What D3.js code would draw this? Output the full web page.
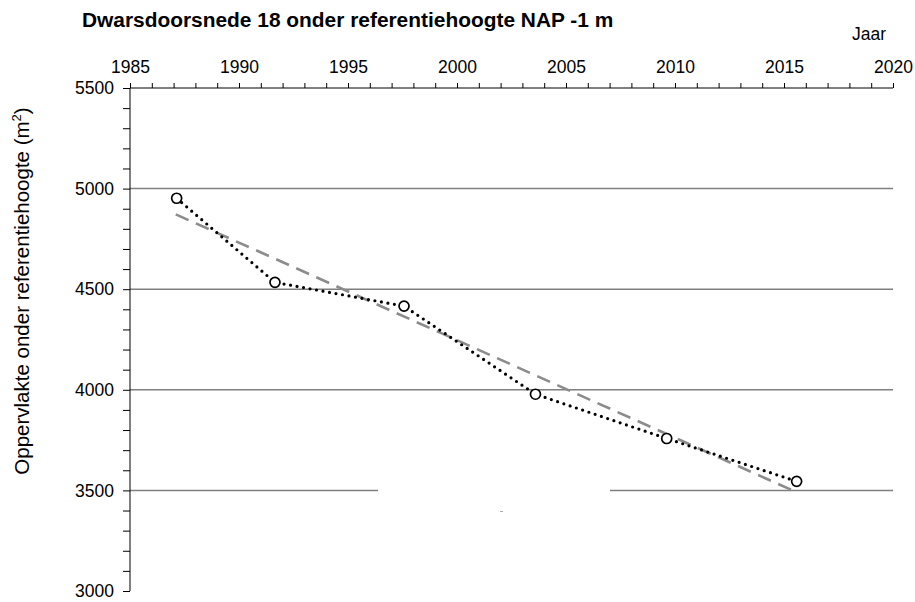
<!DOCTYPE html>
<html>
<head>
<meta charset="utf-8">
<script src="https://cdn.jsdelivr.net/npm/d3@7"></script>
<style>
  html, body { margin: 0; padding: 0; background: #fff; }
  svg { display: block; font-family: "Liberation Sans", Arial, sans-serif; }
</style>
</head>
<body>
<svg id="chart" width="915" height="602"></svg>
<script>
// ---- data ----
const years = [1987.14, 1991.65, 1997.57, 2003.6, 2009.62, 2015.58];
const area = [4952, 4534, 4416, 3978, 3758, 3545];
const trendYears = [1987.1, 2015.6];
const trendValues = [4872, 3490];
const xTickValues = [1985, 1990, 1995, 2000, 2005, 2010, 2015, 2020];
const yTickValues = [3000, 3500, 4000, 4500, 5000, 5500];
const gridValues = [3500, 4000, 4500, 5000];
const titleText = "Dwarsdoorsnede 18 onder referentiehoogte NAP -1 m";
const xAxisTitle = "Jaar";
const yAxisTitle = "Oppervlakte onder referentiehoogte (m";

// ---- layout ----
const mLeft = 130, mRight = 893, mTop = 88, mBottom = 591;
const svg = d3.select("#chart");

const x = d3.scaleLinear().domain([1985, 2020]).range([mLeft, mRight]);
const y = d3.scaleLinear().domain([3000, 5500]).range([mBottom, mTop]);

// gridlines
svg.append("g").selectAll("line").data(gridValues).join("line")
  .attr("x1", mLeft).attr("x2", mRight)
  .attr("y1", d => y(d)).attr("y2", d => y(d))
  .attr("stroke", "#7f7f7f").attr("stroke-width", 1.5);

// hidden legend box (masks part of the 3500 gridline)
svg.append("rect")
  .attr("x", 378).attr("y", 470).attr("width", 232).attr("height", 60)
  .attr("fill", "#fff");
svg.append("line")
  .attr("x1", 500).attr("x2", 503).attr("y1", 511.5).attr("y2", 511.5)
  .attr("stroke", "#aaa").attr("stroke-width", 1);

// top x axis
const xMinor = d3.range(1985, 2021, 1);
const xAxis = d3.axisTop(x).tickValues(xMinor)
  .tickFormat(d => xTickValues.includes(d) ? d3.format("d")(d) : "")
  .tickSize(5).tickPadding(10);
const gx = svg.append("g").attr("transform", `translate(0,${mTop})`).call(xAxis);
gx.select(".domain").attr("d", `M${mLeft},0H${mRight}`).attr("stroke", "#000");
gx.selectAll(".tick line").attr("stroke", "#000");
gx.selectAll(".tick text").attr("font-size", 17.5).attr("fill", "#000")
  .attr("font-family", "Liberation Sans, Arial, sans-serif");

// left y axis
const yMinor = d3.range(3000, 5501, 100);
const yAxis = d3.axisLeft(y).tickValues(yMinor)
  .tickFormat(d => yTickValues.includes(d) ? d3.format("d")(d) : "")
  .tickSize(7).tickPadding(9);
const gy = svg.append("g").attr("transform", `translate(${mLeft},0)`).call(yAxis);
gy.select(".domain").attr("d", `M0,${mTop}V${mBottom}`).attr("stroke", "#000");
gy.selectAll(".tick line").attr("stroke", "#000");
gy.selectAll(".tick text").attr("font-size", 17.5).attr("fill", "#000")
  .attr("font-family", "Liberation Sans, Arial, sans-serif");

// trend line (dashed gray)
const trend = trendYears.map((d, i) => [d, trendValues[i]]);
svg.append("path").datum(trend)
  .attr("d", d3.line().x(d => x(d[0])).y(d => y(d[1])))
  .attr("fill", "none").attr("stroke", "#8c8c8c").attr("stroke-width", 2.6)
  .attr("stroke-dasharray", "14,8");

// data line (dotted black)
const pts = years.map((d, i) => [d, area[i]]);
svg.append("path").datum(pts)
  .attr("d", d3.line().x(d => x(d[0])).y(d => y(d[1])))
  .attr("fill", "none").attr("stroke", "#000").attr("stroke-width", 3.2)
  .attr("stroke-linecap", "round").attr("stroke-dasharray", "0,6.6");

// markers
svg.append("g").selectAll("circle").data(pts).join("circle")
  .attr("cx", d => x(d[0])).attr("cy", d => y(d[1])).attr("r", 5)
  .attr("fill", "#fff").attr("stroke", "#000").attr("stroke-width", 1.7);

// title
svg.append("text").attr("x", 82).attr("y", 27)
  .attr("font-size", 20.9).attr("font-weight", "bold").attr("fill", "#000")
  .text(titleText);

// x axis title
svg.append("text").attr("x", 886).attr("y", 40).attr("text-anchor", "end")
  .attr("font-size", 17.5).attr("fill", "#000").text(xAxisTitle);

// y axis title
const yt = svg.append("text")
  .attr("transform", "translate(29,291) rotate(-90)")
  .attr("text-anchor", "middle").attr("font-size", 20.5).attr("fill", "#000");
yt.append("tspan").text(yAxisTitle);
yt.append("tspan").attr("dy", -8).attr("font-size", 13).text("2");
yt.append("tspan").attr("dy", 8).text(")");
</script>
</body>
</html>
